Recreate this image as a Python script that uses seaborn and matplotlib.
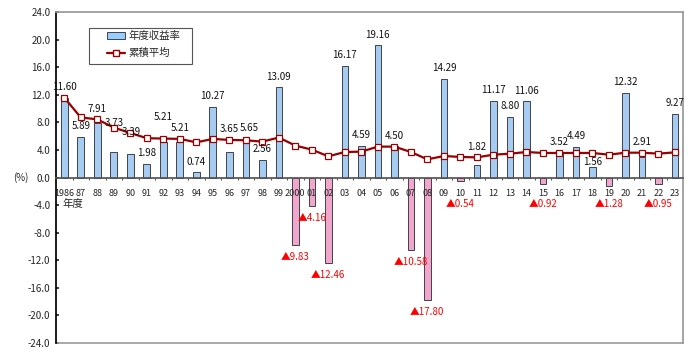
"""Annual return rate and cumulative average, FY1986-2023."""
import matplotlib.pyplot as plt
import matplotlib.patches as mpatches
import matplotlib.lines as mlines
import numpy as np
import pandas as pd
import seaborn as sns

years = ["1986", "87", "88", "89", "90", "91", "92", "93", "94", "95", "96", "97", "98", "99",
         "2000", "01", "02", "03", "04", "05", "06", "07", "08", "09", "10", "11", "12", "13",
         "14", "15", "16", "17", "18", "19", "20", "21", "22", "23"]
returns = [11.60, 5.89, 7.91, 3.73, 3.39, 1.98, 5.21, 5.21, 0.74, 10.27, 3.65, 5.65, 2.56, 13.09,
           -9.83, -4.16, -12.46, 16.17, 4.59, 19.16, 4.50, -10.58, -17.80, 14.29, -0.54, 1.82,
           11.17, 8.80, 11.06, -0.92, 3.52, 4.49, 1.56, -1.28, 12.32, 2.91, -0.95, 9.27]
cum_avg = [11.60, 8.71, 8.44, 7.24, 6.46, 5.70, 5.65, 5.60, 5.10, 5.60, 5.45, 5.40, 5.20, 5.80,
           4.63, 4.04, 3.07, 3.70, 3.75, 4.48, 4.48, 3.70, 2.63, 3.12, 2.98, 2.92, 3.31, 3.45,
           3.70, 3.56, 3.56, 3.56, 3.56, 3.31, 3.60, 3.60, 3.46, 3.65]
yticks = np.arange(-24, 25, 4)

# hand nudges (points) for crowded value labels, as in the original
label_nudge = {"89": (0, 13), "90": (1, 8), "92": (0, 8), "97": (2.5, 0), "18": (0, -4)}

BLUE = "#99ccff"
PINK = "#ff99cc"
LINE = "#990000"

sns.set_theme(style="white")
plt.rcParams["font.family"] = ["Noto Sans CJK JP", "DejaVu Sans"]

df = pd.DataFrame({"year": years, "ret": returns})
df["sign"] = np.where(df["ret"] >= 0, "pos", "neg")

fig = plt.figure(figsize=(7, 3.55), dpi=100)
ax = fig.add_axes([0.08, 0.034, 0.896, 0.932])

sns.barplot(data=df, x="year", y="ret", hue="sign", palette={"pos": BLUE, "neg": PINK},
            dodge=False, width=0.4, edgecolor="#404050", linewidth=0.7, legend=False, ax=ax)
xs = np.arange(len(years))
sns.lineplot(x=xs, y=cum_avg, color=LINE, linewidth=1.6, marker="s", markersize=5,
             markerfacecolor="white", markeredgecolor=LINE, markeredgewidth=0.9, ax=ax, zorder=5)

ax.set_xlim(-0.5, len(years) - 0.5)
ax.set_ylim(-24, 24)
ax.set_yticks(yticks)
ax.set_yticklabels([f"{t:.1f}" for t in yticks], fontsize=7)
ax.tick_params(axis="y", direction="in", length=2.5, pad=4, left=True)
ax.set_xlabel("")
ax.set_ylabel("")

# category axis sits on the zero line
ax.spines["bottom"].set_position(("data", 0))
ax.spines["bottom"].set_color("#555555")
ax.spines["left"].set_color("black")
for side in ("top", "right"):
    ax.spines[side].set_color("#999999")
ax.plot([0, 1], [0, 0], transform=ax.transAxes, color="#999999", lw=1.2, clip_on=False)
ax.set_xticks(xs)
ax.set_xticklabels(years, fontsize=6.5)
ax.set_xticks(xs[:-1] + 0.5, minor=True)
ax.tick_params(axis="x", which="major", length=0, pad=8)
ax.tick_params(axis="x", which="minor", direction="out", length=1.5, width=0.8,
               color="#555555", bottom=True)
ax.xaxis.set_zorder(10)

for i, (yr, v, c) in enumerate(zip(years, returns, cum_avg)):
    if v >= 0:
        top = c if 0 <= c - v < 1.9 else v
        dx, dy = label_nudge.get(yr, (0, 0))
        ax.annotate(f"{v:.2f}", (i, top), xytext=(dx, 4 + dy), textcoords="offset points",
                    ha="center", va="bottom", fontsize=7, color="#111111", zorder=6)
    else:
        ax.text(i, min(v, -2.1) - 1.7, f"▲{-v:.2f}", ha="center", va="center",
                fontsize=7, color="red", zorder=6)

ax.text(-0.0686, 0.5, "(%)", transform=ax.transAxes, ha="left", va="center", fontsize=7)
ax.annotate("年度", (0, 0), xytext=(6.5, -19), textcoords="offset points",
            ha="center", va="center", fontsize=7.5)

# legend: frame drawn separately so the entries sit centred in a wider box
ax.add_patch(mpatches.Rectangle((0.053, 0.843), 0.164, 0.109, transform=ax.transAxes,
                                facecolor="white", edgecolor="#555555", lw=0.8, zorder=7))
handles = [
    mpatches.Patch(facecolor=BLUE, edgecolor="#404050", linewidth=0.7, label="年度収益率"),
    mlines.Line2D([], [], color=LINE, lw=1.6, marker="s", markersize=5,
                  markerfacecolor="white", markeredgecolor=LINE, label="累積平均"),
]
leg = ax.legend(handles=handles, loc="upper left", bbox_to_anchor=(0.0813, 0.942),
                fontsize=7.5, frameon=False, borderpad=0, borderaxespad=0,
                labelspacing=0.65, handlelength=1.75, handleheight=0.6, handletextpad=0.3)
leg.set_zorder(8)

fig.savefig("out.png", dpi=100)
